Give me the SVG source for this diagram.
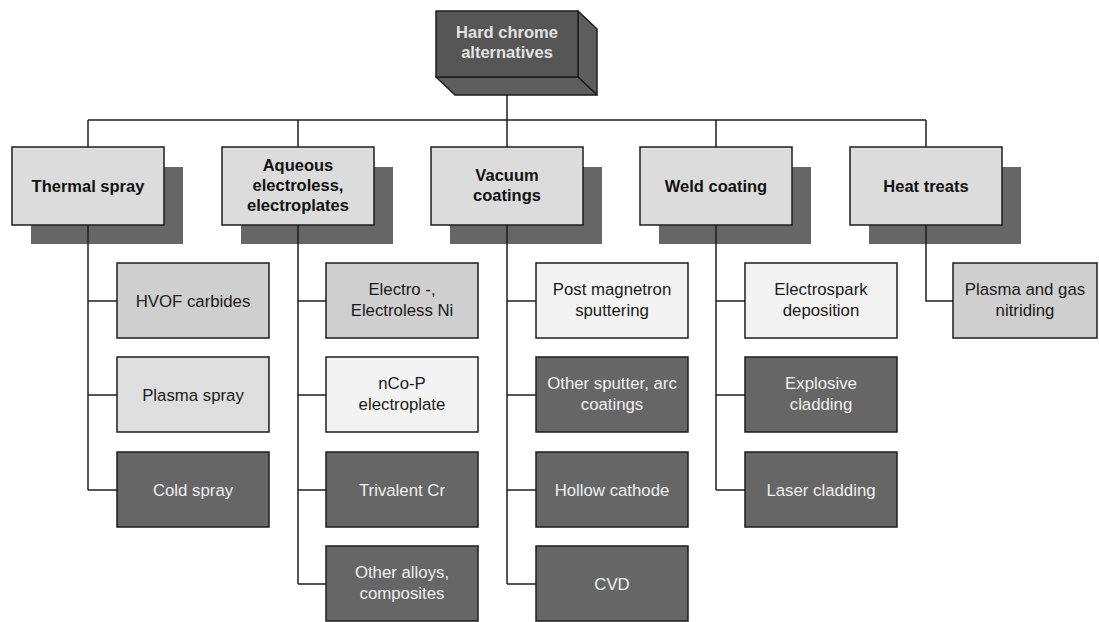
<svg xmlns="http://www.w3.org/2000/svg" width="1099" height="622" viewBox="0 0 1099 622">
<style>
.bg{fill:#ffffff}
.shadow{fill:#666666}
.cat{fill:#dcdcdc;stroke:#1e1e1e;stroke-width:1.5}
.mid{fill:#cfcfcf;stroke:#1e1e1e;stroke-width:1.5}
.light{fill:#f3f3f3;stroke:#1e1e1e;stroke-width:1.5}
.pale{fill:#dedede;stroke:#1e1e1e;stroke-width:1.5}
.dark{fill:#666666;stroke:#1e1e1e;stroke-width:1.5}
.top{fill:#565656;stroke:#1e1e1e;stroke-width:1.5;stroke-linejoin:round}
.side{fill:#5e5e5e;stroke:#1e1e1e;stroke-width:1.5;stroke-linejoin:round}
.conn{fill:none;stroke:#1e1e1e;stroke-width:1.5}
text{font-family:"Liberation Sans",Arial,sans-serif;text-anchor:middle}
.tb{font-size:16.5px;font-weight:bold;fill:#111111}
.tt{font-size:16.5px;font-weight:bold;fill:#e2e2e2}
.tl{font-size:16.8px;fill:#1a1a1a}
.tw{font-size:16.8px;fill:#f0f0f0}
</style>
<rect class="bg" x="0" y="0" width="1099" height="622"/>

<g id="root">
  <polygon class="side" points="578,11 597,29 597,95 578,77"/>
  <polygon class="side" points="436,77 578,77 597,95 455,95"/>
  <rect class="top" x="436" y="11" width="142" height="66"/>
  <text class="tt" x="507" y="38">Hard chrome</text>
  <text class="tt" x="507" y="58">alternatives</text>
</g>

<g id="cat-thermal">
  <rect class="shadow" x="31" y="167" width="152" height="77"/>
  <rect class="cat" x="12" y="147" width="152" height="78"/>
  <text class="tb" x="88" y="192">Thermal spray</text>
</g>
<g id="cat-aqueous">
  <rect class="shadow" x="241" y="167" width="152" height="77"/>
  <rect class="cat" x="222" y="147" width="152" height="78"/>
  <text class="tb" x="298" y="171">Aqueous</text>
  <text class="tb" x="298" y="191">electroless,</text>
  <text class="tb" x="298" y="211">electroplates</text>
</g>
<g id="cat-vacuum">
  <rect class="shadow" x="450" y="167" width="152" height="77"/>
  <rect class="cat" x="431" y="147" width="152" height="78"/>
  <text class="tb" x="507" y="181">Vacuum</text>
  <text class="tb" x="507" y="201">coatings</text>
</g>
<g id="cat-weld">
  <rect class="shadow" x="659" y="167" width="152" height="77"/>
  <rect class="cat" x="640" y="147" width="152" height="78"/>
  <text class="tb" x="716" y="192">Weld coating</text>
</g>
<g id="cat-heat">
  <rect class="shadow" x="869" y="167" width="152" height="77"/>
  <rect class="cat" x="850" y="147" width="152" height="78"/>
  <text class="tb" x="926" y="192">Heat treats</text>
</g>

<g id="connectors">
  <path class="conn" d="M507,95 V147"/>
  <path class="conn" d="M88,120 H926"/>
  <path class="conn" d="M88,120 V147 M298,120 V147 M716,120 V147 M926,120 V147"/>
  <path class="conn" d="M88,225 V490 M88,301 H117 M88,395 H117 M88,490 H117"/>
  <path class="conn" d="M298,225 V584 M298,301 H326 M298,395 H326 M298,490 H326 M298,584 H326"/>
  <path class="conn" d="M507,225 V584 M507,301 H536 M507,395 H536 M507,490 H536 M507,584 H536"/>
  <path class="conn" d="M716,225 V490 M716,301 H745 M716,395 H745 M716,490 H745"/>
  <path class="conn" d="M926,225 V301 H953"/>
</g>

<g id="leaf-hvof">
  <rect class="mid" x="117" y="263" width="152" height="75"/>
  <text class="tl" x="193" y="307">HVOF carbides</text>
</g>
<g id="leaf-plasma-spray">
  <rect class="pale" x="117" y="357" width="152" height="75"/>
  <text class="tl" x="193" y="401">Plasma spray</text>
</g>
<g id="leaf-cold-spray">
  <rect class="dark" x="117" y="452" width="152" height="75"/>
  <text class="tw" x="193" y="496">Cold spray</text>
</g>

<g id="leaf-electroless-ni">
  <rect class="mid" x="326" y="263" width="152" height="75"/>
  <text class="tl" x="402" y="295">Electro -,</text>
  <text class="tl" x="402" y="316">Electroless Ni</text>
</g>
<g id="leaf-nco-p">
  <rect class="light" x="326" y="357" width="152" height="75"/>
  <text class="tl" x="402" y="389">nCo-P</text>
  <text class="tl" x="402" y="410">electroplate</text>
</g>
<g id="leaf-trivalent">
  <rect class="dark" x="326" y="452" width="152" height="75"/>
  <text class="tw" x="402" y="496">Trivalent Cr</text>
</g>
<g id="leaf-other-alloys">
  <rect class="dark" x="326" y="546" width="152" height="75"/>
  <text class="tw" x="402" y="578">Other alloys,</text>
  <text class="tw" x="402" y="599">composites</text>
</g>

<g id="leaf-post-magnetron">
  <rect class="light" x="536" y="263" width="152" height="75"/>
  <text class="tl" x="612" y="295">Post magnetron</text>
  <text class="tl" x="612" y="316">sputtering</text>
</g>
<g id="leaf-other-sputter">
  <rect class="dark" x="536" y="357" width="152" height="75"/>
  <text class="tw" x="612" y="389">Other sputter, arc</text>
  <text class="tw" x="612" y="410">coatings</text>
</g>
<g id="leaf-hollow-cathode">
  <rect class="dark" x="536" y="452" width="152" height="75"/>
  <text class="tw" x="612" y="496">Hollow cathode</text>
</g>
<g id="leaf-cvd">
  <rect class="dark" x="536" y="546" width="152" height="75"/>
  <text class="tw" x="612" y="590">CVD</text>
</g>

<g id="leaf-electrospark">
  <rect class="light" x="745" y="263" width="152" height="75"/>
  <text class="tl" x="821" y="295">Electrospark</text>
  <text class="tl" x="821" y="316">deposition</text>
</g>
<g id="leaf-explosive">
  <rect class="dark" x="745" y="357" width="152" height="75"/>
  <text class="tw" x="821" y="389">Explosive</text>
  <text class="tw" x="821" y="410">cladding</text>
</g>
<g id="leaf-laser">
  <rect class="dark" x="745" y="452" width="152" height="75"/>
  <text class="tw" x="821" y="496">Laser cladding</text>
</g>

<g id="leaf-nitriding">
  <rect class="mid" x="953" y="263" width="144" height="75"/>
  <text class="tl" x="1025" y="295">Plasma and gas</text>
  <text class="tl" x="1025" y="316">nitriding</text>
</g>
</svg>
